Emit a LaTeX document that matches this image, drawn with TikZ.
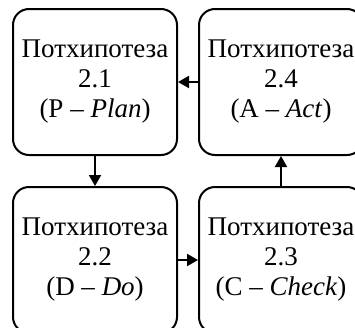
\documentclass[tikz,border=0pt]{standalone}
\usepackage{fontspec}
\setmainfont{Liberation Serif}
\usetikzlibrary{arrows.meta,positioning}

\tikzset{
  hyp/.style={draw,line width=2pt,rounded corners=16pt,
    minimum width=164pt,minimum height=146pt,align=center,
    font=\fontsize{27}{30}\selectfont,inner sep=0pt},
  flow/.style={line width=2pt,-{Triangle[length=11pt,width=12pt]}}
}

\begin{document}
\begin{tikzpicture}[x=1pt,y=1pt]
  \useasboundingbox (0,0) rectangle (355,-327);
  % PDCA cycle of sub-hypotheses
  \node[hyp] (plan) at (95,-82) {Потхипотеза\\2.1\\(P -- \textit{Plan})};
  \node[hyp,right=20pt of plan] (act) {Потхипотеза\\2.4\\(A -- \textit{Act})};
  \node[hyp,below=30pt of plan] (do) {Потхипотеза\\2.2\\(D -- \textit{Do})};
  \node[hyp,below=30pt of act] (check) {Потхипотеза\\2.3\\(C -- \textit{Check})};
  \draw[flow] (act) -- (plan);
  \draw[flow] (plan) -- (do);
  \draw[flow] (do) -- (check);
  \draw[flow] (check) -- (act);
\end{tikzpicture}
\end{document}
